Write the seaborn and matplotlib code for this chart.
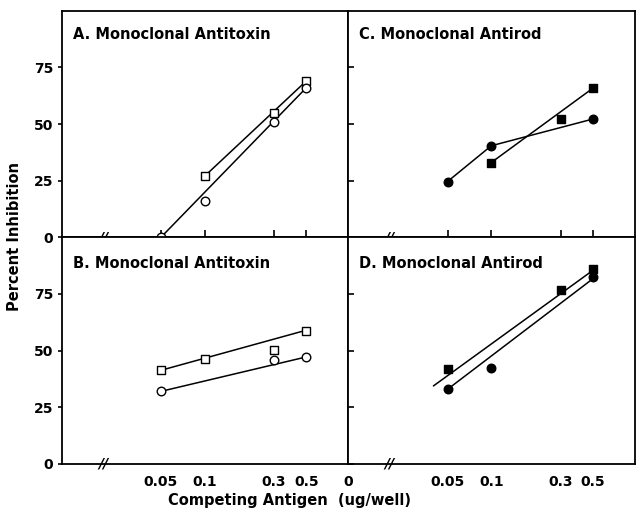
import matplotlib
matplotlib.use("Agg")
import matplotlib.pyplot as plt
import pandas as pd
import seaborn as sns

# ---- data (percent inhibition vs antigen ug/well) ----
tick_vals = [0.05, 0.1, 0.3, 0.5]
tick_labels = ["0.05", "0.1", "0.3", "0.5"]
y_ticks = [0, 25, 50, 75]

a_sq_x = [0.1, 0.3, 0.5]
a_sq_y = [27, 55, 69]
a_ci_x = [0.05, 0.1, 0.3, 0.5]
a_ci_y = [0, 16, 51, 66]
a_sq_line = ([0.1, 0.5], [27, 69])
a_ci_line = ([0.05, 0.5], [0, 66])

b_sq_x = [0.05, 0.1, 0.3, 0.5]
b_sq_y = [41.3, 46.5, 50.1, 58.8]
b_ci_x = [0.05, 0.3, 0.5]
b_ci_y = [32, 46, 47.2]
b_sq_line = ([0.05, 0.5], [41.3, 59])
b_ci_line = ([0.05, 0.5], [32, 47.2])

c_sq_x = [0.1, 0.3, 0.5]
c_sq_y = [33, 52.2, 65.8]
c_ci_x = [0.05, 0.1, 0.5]
c_ci_y = [24.6, 40.4, 52.2]
c_sq_line = ([0.1, 0.5], [33, 65.8])
c_ci_line = ([0.05, 0.1, 0.5], [24.6, 40.4, 52.2])

d_sq_x = [0.05, 0.3, 0.5]
d_sq_y = [41.7, 76.8, 86.1]
d_ci_x = [0.05, 0.1, 0.5]
d_ci_y = [32.9, 42.4, 82.4]
d_sq_line = ([0.04, 0.5], [34.4, 85.4])
d_ci_line = ([0.05, 0.5], [32.9, 81.7])

panels = {
    "A": ("A. Monoclonal Antitoxin", a_sq_x, a_sq_y, a_ci_x, a_ci_y, a_sq_line, a_ci_line, False),
    "B": ("B. Monoclonal Antitoxin", b_sq_x, b_sq_y, b_ci_x, b_ci_y, b_sq_line, b_ci_line, False),
    "C": ("C. Monoclonal Antirod", c_sq_x, c_sq_y, c_ci_x, c_ci_y, c_sq_line, c_ci_line, True),
    "D": ("D. Monoclonal Antirod", d_sq_x, d_sq_y, d_ci_x, d_ci_y, d_sq_line, d_ci_line, True),
}

sns.set_style("ticks")
plt.rcParams["font.family"] = ["DejaVu Sans"]
plt.rcParams["font.weight"] = "bold"
for k in ("text.color", "axes.labelcolor", "xtick.color", "ytick.color"):
    plt.rcParams[k] = "black"

fig = plt.figure(figsize=(6.44, 5.12), dpi=100)
gs = fig.add_gridspec(2, 2, left=0.096, right=0.986, bottom=0.094, top=0.979,
                      wspace=0, hspace=0)
axes = {"A": fig.add_subplot(gs[0, 0]), "B": fig.add_subplot(gs[1, 0]),
        "C": fig.add_subplot(gs[0, 1]), "D": fig.add_subplot(gs[1, 1])}

xmin, xmax = 0.0104, 0.975
for key, (title, sx, sy, cx, cy, sline, cline, filled) in panels.items():
    ax = axes[key]
    ax.set_xscale("log")
    for lx, ly in (sline, cline):
        sns.lineplot(x=lx, y=ly, ax=ax, color="black", lw=1.1, sort=False,
                     estimator=None, legend=False)
    face = "black" if filled else "white"
    sns.scatterplot(x=sx, y=sy, ax=ax, marker="s", s=34, facecolor=face,
                    edgecolor="black", linewidth=1.0, zorder=5, clip_on=False)
    sns.scatterplot(x=cx, y=cy, ax=ax, marker="o", s=38, facecolor=face,
                    edgecolor="black", linewidth=1.0, zorder=5, clip_on=False)
    ax.set_xlim(xmin, xmax)
    ax.set_ylim(0, 100)
    ax.set_xlabel("")
    ax.set_ylabel("")
    ax.minorticks_off()
    for sp in ax.spines.values():
        sp.set_linewidth(1.3)
        sp.set_color("black")
    ax.text(0.038, 0.895 if key in "AC" else 0.885, title, transform=ax.transAxes,
            fontsize=10.5, fontweight="bold", va="center", ha="left")
    # axis break mark
    ax.text(0.02, 0, "//", transform=ax.get_xaxis_transform(), fontsize=10,
            fontstyle="italic", fontweight="bold", ha="center", va="center",
            zorder=6)
    ax.set_yticks(y_ticks)
    if key in "AB":
        ax.tick_params(axis="y", direction="out", length=3, width=1.2,
                       labelsize=10, pad=3)
    else:
        ax.tick_params(axis="y", direction="in", length=4, width=1.2,
                       labelleft=False)
    if key in "AC":
        ax.set_xticks(tick_vals)
        ax.tick_params(axis="x", direction="in", length=5, width=1.2,
                       labelbottom=False)
    else:
        if key == "D":
            ax.set_xticks([xmin] + tick_vals)
            ax.set_xticklabels(["0"] + tick_labels)
        else:
            ax.set_xticks(tick_vals)
            ax.set_xticklabels(tick_labels)
        ax.tick_params(axis="x", length=0, labelsize=10, pad=8)

fig.text(0.022, 0.538, "Percent Inhibition", rotation=90, ha="center",
         va="center", fontsize=10.5, fontweight="bold")
fig.text(0.45, 0.023, "Competing Antigen  (ug/well)", ha="center",
         va="center", fontsize=10.5, fontweight="bold")

fig.savefig("out.png", dpi=100)
